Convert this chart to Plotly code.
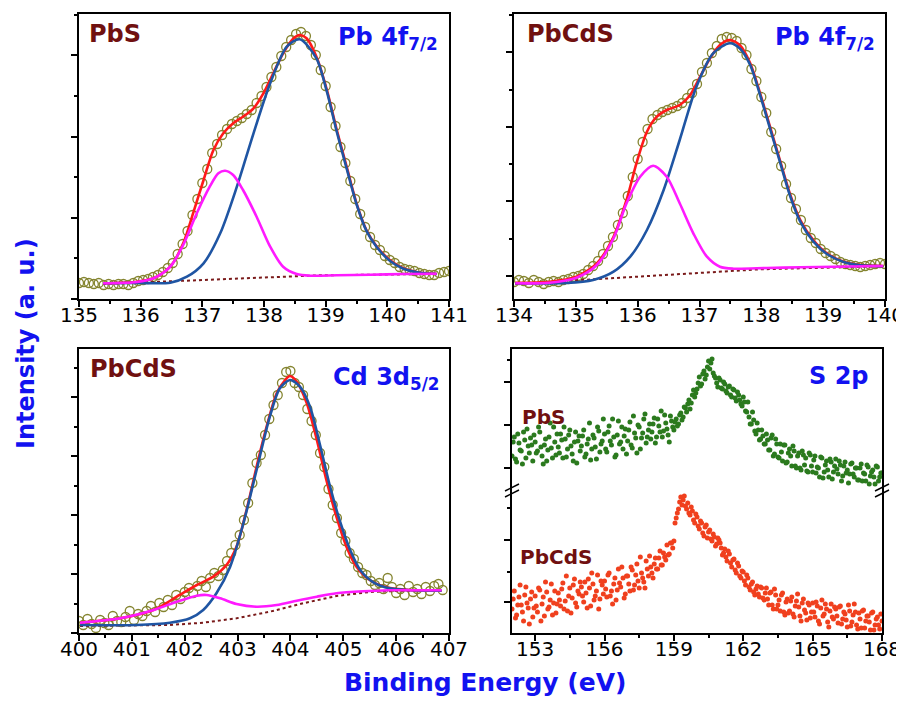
import plotly.graph_objects as go

# the page body adds an 8 px margin, so the figure is 8 px smaller and positions are offset by 8 px
OFF = 8
W, H = 904 - OFF, 705 - OFF


def fx(p):
    return (p - OFF) / W


def fy(p):
    return 1 - (p - OFF) / H


# ---------------- Panel A : PbS, Pb 4f7/2 ----------------
a_energy = [135.00, 135.08, 135.16, 135.24, 135.32, 135.40, 135.48, 135.56, 135.64, 135.72, 135.80, 135.88, 135.96,
            136.04, 136.12, 136.20, 136.28, 136.36, 136.44, 136.52, 136.60, 136.68, 136.76, 136.84, 136.92,
            137.00, 137.08, 137.16, 137.24, 137.32, 137.40, 137.48, 137.56, 137.64, 137.72, 137.80, 137.88, 137.96,
            138.04, 138.12, 138.20, 138.28, 138.36, 138.44, 138.52, 138.60, 138.68, 138.76, 138.84, 138.92,
            139.00, 139.08, 139.16, 139.24, 139.32, 139.40, 139.48, 139.56, 139.64, 139.72, 139.80, 139.88, 139.96,
            140.04, 140.12, 140.20, 140.28, 140.36, 140.44, 140.52, 140.60, 140.68, 140.76, 140.84, 140.92,
            141.00]
a_counts = [16, 17, 16, 15, 16, 14, 15, 14, 15, 15, 14, 16, 18,
            19, 20, 22, 24, 27, 31, 36, 45, 55, 68, 84, 100,
            116, 130, 146, 155, 164, 170, 175, 178, 181, 185, 189, 196, 203,
            212, 222, 232, 243, 252, 259, 265, 267, 263, 254, 244, 229,
            213, 192, 173, 152, 136, 118, 100, 85, 72, 62, 54, 49, 43,
            39, 36, 32, 30, 29, 28, 26, 25, 24, 24, 26, 27,
            28]
a_fit_x = [135.39, 135.94, 136.21, 136.48, 136.69, 136.85, 137.02, 137.18, 137.34, 137.50, 137.66, 137.83, 137.99,
           138.15, 138.31, 138.48, 138.58, 138.69, 138.85, 139.02, 139.18, 139.34, 139.50, 139.66, 139.83, 140.04,
           140.26, 140.53, 140.80]
a_fit_y = [15.7, 17.3, 20.7, 32.3, 55.7, 85.7, 119, 149, 165.7, 175.7, 182.3, 190.7, 205.7,
           225.7, 245.7, 260.7, 264, 260.7, 242.3, 209, 169, 132.3, 95.7, 69, 52.3, 39,
           30.7, 26.3, 25]
a_main_x = [135.39, 135.94, 136.48, 136.75, 137.02, 137.29, 137.56, 137.83, 138.10, 138.37, 138.58, 138.85, 139.02,
            139.18, 139.34, 139.50, 139.66, 139.83, 140.04, 140.26, 140.53, 140.80]
a_main_y = [15.7, 16.0, 16.3, 22.3, 35.7, 65.7, 112.3, 165.7, 215.7, 252.3, 259.7, 240.7, 207.3,
            167.3, 130.7, 95, 68.3, 51.7, 38.3, 30.3, 26.3, 25]
a_sec_x = [135.39, 135.94, 136.21, 136.48, 136.69, 136.91, 137.12, 137.26, 137.37, 137.50, 137.66, 137.88, 138.10,
           138.31, 138.53, 138.75, 139.18, 139.72, 140.26, 140.80]
a_sec_y = [15.7, 17, 20.7, 32.3, 54, 85.7, 112.3, 125.7, 128.3, 124, 109, 82.3, 52.3,
           32.3, 25, 23.3, 23.7, 24.3, 25, 25.3]
a_bg_x = [135.39, 138.90, 140.80]
a_bg_y = [15.0, 23.7, 25.0]

# ---------------- Panel B : PbCdS, Pb 4f7/2 ----------------
b_energy = [134.00, 134.08, 134.16, 134.24, 134.32, 134.40, 134.48, 134.56, 134.64, 134.72, 134.80, 134.88, 134.96,
            135.04, 135.12, 135.20, 135.28, 135.36, 135.44, 135.52, 135.60, 135.68, 135.76, 135.84, 135.92,
            136.00, 136.08, 136.16, 136.24, 136.32, 136.40, 136.48, 136.56, 136.64, 136.72, 136.80, 136.88, 136.96,
            137.04, 137.12, 137.20, 137.28, 137.36, 137.44, 137.52, 137.60, 137.68, 137.76, 137.84, 137.92,
            138.00, 138.08, 138.16, 138.24, 138.32, 138.40, 138.48, 138.56, 138.64, 138.72, 138.80, 138.88, 138.96,
            139.04, 139.12, 139.20, 139.28, 139.36, 139.44, 139.52, 139.60, 139.68, 139.76, 139.84, 139.92,
            140.00]
b_counts = [17, 19, 18, 16, 19, 17, 15, 17, 18, 17, 19, 20, 22,
            23, 25, 29, 33, 38, 45, 53, 62, 74, 86, 103, 122,
            140, 157, 170, 180, 184, 187, 189, 191, 193, 196, 201, 206, 215,
            227, 236, 246, 253, 260, 262, 261, 258, 251, 244, 230, 218,
            202, 186, 167, 150, 133, 115, 101, 90, 79, 69, 61, 56, 50,
            46, 43, 40, 37, 35, 34, 33, 32, 33, 34, 35, 36,
            35]
b_fit_x = [134.02, 134.58, 135.01, 135.34, 135.61, 135.82, 135.98, 136.15, 136.31, 136.47, 136.68, 136.85, 137.01,
           137.17, 137.33, 137.49, 137.65, 137.82, 137.98, 138.14, 138.30, 138.46, 138.63, 138.84, 139.06, 139.33,
           139.60, 139.97]
b_fit_y = [16.3, 17.3, 22.3, 35.7, 62.3, 99, 135.7, 167.3, 182.3, 189, 194, 204, 222.3,
           240.7, 254, 259, 254, 235.7, 205.7, 172.3, 139, 105.7, 79, 59, 45.7, 37.3,
           34, 33]
b_main_x = [134.02, 134.85, 135.28, 135.61, 135.88, 136.15, 136.42, 136.68, 136.95, 137.22, 137.49, 137.65, 137.82,
            137.98, 138.14, 138.30, 138.46, 138.63, 138.84, 139.06, 139.33, 139.60, 139.97]
b_main_y = [15.7, 16, 19, 27.3, 42.3, 69, 109, 159, 212.3, 245.7, 255.7, 250.7, 234,
            204, 170.7, 137.3, 104, 77.3, 57.7, 45, 37, 33.7, 32.7]
b_sec_x = [134.02, 134.58, 135.01, 135.34, 135.61, 135.82, 136.04, 136.25, 136.47, 136.68, 136.90, 137.12, 137.33,
           137.55, 138.09, 138.63, 139.16, 139.97]
b_sec_y = [15.7, 16.3, 21.3, 34, 60.7, 95.7, 122.3, 133.3, 122.3, 95.7, 65.7, 42.3, 32.3,
           30.3, 31, 31.7, 32.3, 33]
b_bg_x = [134.02, 137.98, 139.97]
b_bg_y = [15.0, 29.7, 32.7]

# ---------------- Panel C : PbCdS, Cd 3d5/2 ----------------
c_energy = [400.00, 400.08, 400.16, 400.24, 400.32, 400.40, 400.48, 400.56, 400.64, 400.72, 400.80, 400.88, 400.96,
            401.04, 401.12, 401.20, 401.28, 401.36, 401.44, 401.52, 401.60, 401.68, 401.76, 401.84, 401.92,
            402.00, 402.08, 402.16, 402.24, 402.32, 402.40, 402.48, 402.56, 402.64, 402.72, 402.80, 402.88, 402.96,
            403.04, 403.12, 403.20, 403.28, 403.36, 403.44, 403.52, 403.60, 403.68, 403.76, 403.84, 403.92,
            404.00, 404.08, 404.16, 404.24, 404.32, 404.40, 404.48, 404.56, 404.64, 404.72, 404.80, 404.88, 404.96,
            405.04, 405.12, 405.20, 405.28, 405.36, 405.44, 405.52, 405.60, 405.68, 405.76, 405.84, 405.92,
            406.00, 406.08, 406.16, 406.24, 406.32, 406.40, 406.48, 406.56, 406.64, 406.72, 406.80, 406.88]
c_counts = [12, 8, 14, 9, 5, 13, 10, 8, 17, 12, 11, 16, 22,
            13, 19, 17, 22, 27, 21, 30, 26, 33, 28, 38, 34,
            41, 45, 40, 47, 52, 46, 55, 60, 57, 63, 72, 80, 88,
            98, 113, 130, 150, 170, 178, 198, 214, 228, 238, 250, 261,
            262, 250, 246, 238, 224, 212, 198, 180, 166, 144, 128, 115, 100,
            92, 80, 74, 66, 60, 58, 52, 48, 50, 44, 55, 46,
            40, 44, 38, 47, 41, 44, 39, 46, 42, 47, 49, 43]
c_fit_x = [400.02, 400.78, 401.41, 401.85, 402.23, 402.54, 402.79, 402.98, 403.17, 403.36, 403.55, 403.74, 403.90,
           403.99, 404.12, 404.31, 404.50, 404.68, 404.87, 405.06, 405.25, 405.50, 405.82, 406.26, 406.86]
c_fit_y = [10.3, 14.7, 23, 36.3, 48, 56.3, 68, 86.3, 123, 166.3, 206.3, 239.7, 253,
           257, 251.3, 229.7, 193, 153, 116.3, 86.3, 66.3, 53, 45.7, 43, 42.3]
c_main_x = [400.02, 401.09, 401.72, 402.10, 402.35, 402.60, 402.86, 403.11, 403.36, 403.61, 403.80, 403.99, 404.18,
            404.37, 404.56, 404.75, 404.94, 405.13, 405.32, 405.57, 405.88, 406.33, 406.86]
c_main_y = [8, 8, 10.3, 14.7, 23, 39.7, 66.3, 109.7, 163, 216.3, 244.7, 253, 246.3,
            226.3, 188, 146.3, 111.3, 83, 63, 50.7, 44.7, 42.7, 42.3]
c_sec_x = [400.02, 400.78, 401.41, 401.85, 402.23, 402.41, 402.67, 402.98, 403.36, 403.74, 404.12, 404.50, 404.87,
           405.38, 405.88, 406.86]
c_sec_y = [10.3, 14.7, 23, 31.3, 37.3, 38, 34.7, 29, 26.3, 28, 32.3, 36.3, 39.7,
           41.7, 42.7, 42.7]
c_bg_x = [400.02, 401.72, 402.35, 402.98, 403.61, 404.24, 404.87, 405.50, 406.13, 406.86]
c_bg_y = [7, 8, 10.3, 14.7, 21.3, 29.7, 37, 41, 42.3, 42.3]

# ---------------- Panel D : S 2p ----------------
d_energy = [152.0, 152.1, 152.2, 152.3, 152.4, 152.5, 152.6, 152.7, 152.8, 152.9,
            153.0, 153.1, 153.2, 153.3, 153.4, 153.5, 153.6, 153.7, 153.8, 153.9,
            154.0, 154.1, 154.2, 154.3, 154.4, 154.5, 154.6, 154.7, 154.8, 154.9,
            155.0, 155.1, 155.2, 155.3, 155.4, 155.5, 155.6, 155.7, 155.8, 155.9,
            156.0, 156.1, 156.2, 156.3, 156.4, 156.5, 156.6, 156.7, 156.8, 156.9,
            157.0, 157.1, 157.2, 157.3, 157.4, 157.5, 157.6, 157.7, 157.8, 157.9,
            158.0, 158.1, 158.2, 158.3, 158.4, 158.5, 158.6, 158.7, 158.8, 158.9,
            159.0, 159.1, 159.2, 159.3, 159.4, 159.5, 159.6, 159.7, 159.8, 159.9,
            160.0, 160.1, 160.2, 160.3, 160.4, 160.5, 160.6, 160.7, 160.8, 160.9,
            161.0, 161.1, 161.2, 161.3, 161.4, 161.5, 161.6, 161.7, 161.8, 161.9,
            162.0, 162.1, 162.2, 162.3, 162.4, 162.5, 162.6, 162.7, 162.8, 162.9,
            163.0, 163.1, 163.2, 163.3, 163.4, 163.5, 163.6, 163.7, 163.8, 163.9,
            164.0, 164.1, 164.2, 164.3, 164.4, 164.5, 164.6, 164.7, 164.8, 164.9,
            165.0, 165.1, 165.2, 165.3, 165.4, 165.5, 165.6, 165.7, 165.8, 165.9,
            166.0, 166.1, 166.2, 166.3, 166.4, 166.5, 166.6, 166.7, 166.8, 166.9,
            167.0, 167.1, 167.2, 167.3, 167.4, 167.5, 167.6, 167.7, 167.8, 167.9,
            168.0]
d_pbs = [177, 196, 171, 190, 182, 201, 175, 187, 195, 172,
         191, 182, 201, 177, 188, 172, 196, 185, 206, 178,
         186, 199, 175, 194, 184, 203, 179, 191, 170, 197,
         187, 203, 179, 194, 173, 198, 186, 206, 181, 192,
         199, 181, 207, 188, 196, 178, 212, 191, 184, 204,
         192, 211, 185, 200, 180, 206, 195, 214, 190, 203,
         194, 209, 190, 214, 201, 196, 218, 204, 191, 212,
         203, 214, 209, 220, 216, 225, 229, 224, 238, 236,
         244, 256, 249, 262, 258, 272, 270, 260, 255, 246,
         253, 244, 249, 240, 247, 236, 243, 232, 238, 229,
         236, 222, 231, 209, 221, 202, 210, 193, 203, 189,
         199, 183, 195, 177, 194, 176, 189, 172, 188, 171,
         184, 167, 182, 165, 180, 163, 178, 175, 161, 178,
         161, 177, 166, 156, 175, 161, 172, 156, 171, 161,
         174, 159, 168, 157, 171, 163, 159, 170, 156, 165,
         153, 169, 160, 152, 166, 157, 163, 149, 166, 156,
         160]
d_pbcds = [24, 42, 18, 36, 28, 12, 46, 25, 34, 16,
           37, 21, 43, 29, 17, 41, 26, 49, 30, 20,
           40, 27, 50, 32, 22, 45, 35, 54, 26, 39,
           46, 31, 40, 54, 27, 49, 37, 58, 34, 48,
           52, 36, 60, 42, 49, 33, 64, 46, 55, 39,
           57, 42, 63, 48, 69, 45, 60, 51, 72, 57,
           66, 55, 75, 64, 82, 68, 76, 88, 79, 90,
           92, 115, 124, 136, 133, 127, 130, 118, 122, 110,
           116, 104, 110, 97, 108, 101, 94, 99, 87, 95,
           90, 78, 84, 72, 79, 66, 74, 60, 67, 55,
           61, 48, 55, 43, 51, 38, 47, 36, 45, 33,
           45, 28, 41, 24, 38, 28, 22, 40, 18, 34,
           22, 36, 16, 32, 26, 12, 34, 20, 30, 15,
           30, 16, 27, 9, 33, 19, 24, 6, 29, 14,
           24, 10, 27, 14, 19, 6, 22, 11, 29, 8,
           20, 5, 23, 12, 17, 3, 21, 8, 16, 4,
           12]
# second (interleaved) set of S 2p points
d_energy_b = [152.05, 152.15, 152.25, 152.35, 152.45, 152.55, 152.65, 152.75, 152.85, 152.95,
              153.05, 153.15, 153.25, 153.35, 153.45, 153.55, 153.65, 153.75, 153.85, 153.95,
              154.05, 154.15, 154.25, 154.35, 154.45, 154.55, 154.65, 154.75, 154.85, 154.95,
              155.05, 155.15, 155.25, 155.35, 155.45, 155.55, 155.65, 155.75, 155.85, 155.95,
              156.05, 156.15, 156.25, 156.35, 156.45, 156.55, 156.65, 156.75, 156.85, 156.95,
              157.05, 157.15, 157.25, 157.35, 157.45, 157.55, 157.65, 157.75, 157.85, 157.95,
              158.05, 158.15, 158.25, 158.35, 158.45, 158.55, 158.65, 158.75, 158.85, 158.95,
              159.05, 159.15, 159.25, 159.35, 159.45, 159.55, 159.65, 159.75, 159.85, 159.95,
              160.05, 160.15, 160.25, 160.35, 160.45, 160.55, 160.65, 160.75, 160.85, 160.95,
              161.05, 161.15, 161.25, 161.35, 161.45, 161.55, 161.65, 161.75, 161.85, 161.95,
              162.05, 162.15, 162.25, 162.35, 162.45, 162.55, 162.65, 162.75, 162.85, 162.95,
              163.05, 163.15, 163.25, 163.35, 163.45, 163.55, 163.65, 163.75, 163.85, 163.95,
              164.05, 164.15, 164.25, 164.35, 164.45, 164.55, 164.65, 164.75, 164.85, 164.95,
              165.05, 165.15, 165.25, 165.35, 165.45, 165.55, 165.65, 165.75, 165.85, 165.95,
              166.05, 166.15, 166.25, 166.35, 166.45, 166.55, 166.65, 166.75, 166.85, 166.95,
              167.05, 167.15, 167.25, 167.35, 167.45, 167.55, 167.65, 167.75, 167.85, 167.95]
d_pbs_b = [191, 174, 199, 183, 169, 193, 204, 180, 188, 198,
           180, 206, 186, 169, 194, 183, 210, 175, 191, 199,
           180, 193, 206, 176, 198, 187, 172, 201, 192, 182,
           197, 176, 189, 210, 184, 195, 174, 202, 189, 214,
           184, 201, 192, 214, 176, 198, 189, 206, 197, 179,
           203, 188, 217, 195, 208, 184, 200, 219, 196, 209,
           201, 215, 196, 207, 222, 202, 210, 198, 217, 206,
           211, 207, 218, 213, 226, 221, 233, 230, 243, 240,
           250, 247, 259, 254, 266, 264, 274, 257, 250, 255,
           245, 251, 242, 246, 238, 244, 235, 241, 233, 227,
           231, 221, 216, 209, 213, 199, 203, 194, 197, 189,
           193, 183, 198, 179, 189, 175, 181, 188, 170, 180,
           177, 187, 167, 177, 165, 182, 168, 162, 180, 167,
           173, 160, 165, 176, 155, 168, 163, 174, 154, 167,
           164, 172, 152, 167, 160, 150, 169, 159, 165, 153,
           165, 152, 159, 168, 149, 161, 156, 167, 152, 160]
d_pbcds_b = [34, 15, 28, 48, 21, 38, 30, 9, 41, 25,
             27, 45, 12, 36, 51, 24, 33, 18, 42, 29,
             33, 44, 24, 57, 37, 20, 48, 30, 42, 51,
             37, 51, 25, 45, 60, 33, 42, 24, 52, 39,
             44, 58, 37, 29, 55, 43, 50, 66, 35, 57,
             49, 66, 43, 58, 52, 76, 55, 45, 64, 77,
             60, 69, 64, 75, 68, 80, 73, 78, 90, 85,
             110, 120, 131, 128, 137, 124, 120, 126, 113, 119,
             107, 112, 100, 106, 95, 103, 92, 96, 89, 93,
             85, 80, 76, 82, 70, 73, 63, 70, 57, 62,
             52, 58, 46, 49, 41, 44, 39, 46, 35, 40,
             34, 40, 28, 44, 24, 33, 38, 21, 31, 20,
             32, 19, 27, 39, 17, 30, 23, 13, 28, 21,
             21, 31, 12, 25, 17, 29, 11, 22, 16, 26,
             17, 26, 9, 21, 13, 28, 7, 18, 21, 4,
             14, 22, 5, 17, 11, 20, 3, 14, 8, 19]

# ---------------- styling ----------------
C_DATA = "#84842f"
C_FIT = "#ff1a1a"
C_MAIN = "#1f55a3"
C_SEC = "#ff1aff"
C_BG = "#7a1a1a"
C_LABEL = "#701010"
C_TITLE = "#1212f0"
FONT = "DejaVu Sans"

fig = go.Figure()


def add_fit_panel(xa, ya, ex, cnt, bgx, bgy, fitx, fity, mx, my, sx, sy):
    fig.add_trace(go.Scatter(x=ex, y=cnt, mode="markers", xaxis=xa, yaxis=ya,
                             marker=dict(symbol="circle-open", size=9, color=C_DATA, line=dict(width=1.3, color=C_DATA))))
    fig.add_trace(go.Scatter(x=bgx, y=bgy, mode="lines", xaxis=xa, yaxis=ya,
                             line=dict(color=C_BG, width=2, dash="dot")))
    fig.add_trace(go.Scatter(x=fitx, y=fity, mode="lines", xaxis=xa, yaxis=ya,
                             line=dict(color=C_FIT, width=2.6, shape="spline", smoothing=0.8)))
    fig.add_trace(go.Scatter(x=mx, y=my, mode="lines", xaxis=xa, yaxis=ya,
                             line=dict(color=C_MAIN, width=2.6, shape="spline", smoothing=0.8)))
    fig.add_trace(go.Scatter(x=sx, y=sy, mode="lines", xaxis=xa, yaxis=ya,
                             line=dict(color=C_SEC, width=2.6, shape="spline", smoothing=0.8)))


add_fit_panel("x", "y", a_energy, a_counts, a_bg_x, a_bg_y, a_fit_x, a_fit_y, a_main_x, a_main_y, a_sec_x, a_sec_y)
add_fit_panel("x2", "y2", b_energy, b_counts, b_bg_x, b_bg_y, b_fit_x, b_fit_y, b_main_x, b_main_y, b_sec_x, b_sec_y)
add_fit_panel("x3", "y3", c_energy, c_counts, c_bg_x, c_bg_y, c_fit_x, c_fit_y, c_main_x, c_main_y, c_sec_x, c_sec_y)

for ex, ey, col in ((d_energy, d_pbs, "#2b7a1e"), (d_energy_b, d_pbs_b, "#2b7a1e"),
                    (d_energy, d_pbcds, "#f0401e"), (d_energy_b, d_pbcds_b, "#f0401e")):
    fig.add_trace(go.Scatter(x=ex, y=ey, mode="markers", xaxis="x4", yaxis="y4",
                             marker=dict(symbol="circle", size=5, color=col)))

tickfont = dict(family=FONT, size=20, color="black")
common = dict(showline=True, mirror=True, linecolor="black", linewidth=1.5, ticks="outside",
              ticklen=6, tickwidth=1.5, tickcolor="black", showgrid=False, zeroline=False,
              automargin=False)


def xax(dom, rng, tick0, dtick, mdtick, anchor):
    return dict(domain=dom, range=rng, tickmode="linear", tick0=tick0, dtick=dtick, tickfont=tickfont,
                ticklabelstandoff=-9, ticklabeloverflow="allow",
                minor=dict(ticks="outside", ticklen=3, tickwidth=1.5, tickcolor="black", dtick=mdtick, tick0=tick0),
                anchor=anchor, **common)


def yax(dom, rng, tick0, dtick, mdtick, anchor):
    return dict(domain=dom, range=rng, tickmode="linear", tick0=tick0, dtick=dtick, showticklabels=False,
                minor=dict(ticks="outside", ticklen=3, tickwidth=1.5, tickcolor="black", dtick=mdtick, tick0=tick0),
                anchor=anchor, **common)


top_dom = [fy(299), fy(14)]
bot_dom = [fy(633), fy(349)]
fig.update_layout(
    xaxis=xax([fx(79), fx(449)], [135, 141], 135, 1, 0.5, "y"),
    yaxis=yax(top_dom, [0, 285], 0, 81.2, 40.6, "x"),
    xaxis2=xax([fx(514), fx(885)], [134, 140], 134, 1, 0.5, "y2"),
    yaxis2=yax(top_dom, [0, 285], 23, 74.6, 37.3, "x2"),
    xaxis3=xax([fx(79), fx(449)], [400, 407], 400, 1, 0.5, "y3"),
    yaxis3=yax(bot_dom, [0, 284], 0, 59, 29.5, "x3"),
    xaxis4=xax([fx(512), fx(882)], [152, 168], 153, 3, 1.5, "y4"),
    yaxis4=dict(domain=bot_dom, range=[0, 284], tickmode="array", tickvals=[30.7, 93, 164.7, 208, 251.3],
                showticklabels=False, anchor="x4",
                minor=dict(ticks="outside", ticklen=3, tickwidth=1.5, tickcolor="black",
                           tickmode="array", tickvals=[61.3, 124.7, 273]),
                **common),
)


def label(text, x, y, xanchor, color, size):
    fig.add_annotation(text=text, x=fx(x), y=fy(y), xref="paper", yref="paper", xanchor=xanchor,
                       yanchor="middle", showarrow=False,
                       font=dict(family=FONT, size=size, color=color, weight="bold"))


label("PbS", 87, 34, "left", C_LABEL, 24)
label("Pb 4f<sub>7/2</sub>", 440, 38, "right", C_TITLE, 24)
label("PbCdS", 525, 34, "left", C_LABEL, 24)
label("Pb 4f<sub>7/2</sub>", 877, 38, "right", C_TITLE, 24)
label("PbCdS", 88, 369, "left", C_LABEL, 24)
label("Cd 3d<sub>5/2</sub>", 442, 379, "right", C_TITLE, 24)
label("S 2p", 871, 376, "right", C_TITLE, 24)
label("PbS", 520, 417, "left", C_LABEL, 20)
label("PbCdS", 518, 557, "left", C_LABEL, 20)

fig.add_annotation(text="Intensity (a. u.)", x=fx(26), y=fy(344), xref="paper", yref="paper",
                   textangle=-90, showarrow=False, xanchor="center", yanchor="middle",
                   font=dict(family=FONT, size=24, color=C_TITLE, weight="bold"))
fig.add_annotation(text="Binding Energy (eV)", x=fx(485), y=fy(682), xref="paper", yref="paper",
                   showarrow=False, xanchor="center", yanchor="middle",
                   font=dict(family=FONT, size=25, color=C_TITLE, weight="bold"))

# axis break marks on S 2p panel
for ax_x in (512, 882):
    for dy in (0, 6):
        fig.add_shape(type="line", xref="paper", yref="paper",
                      x0=fx(ax_x - 7), y0=fy(497 - dy), x1=fx(ax_x + 7), y1=fy(490 - dy),
                      line=dict(color="black", width=1.5))

fig.update_layout(width=W, height=H, margin=dict(l=0, r=0, t=0, b=0, pad=0, autoexpand=False),
                  showlegend=False, plot_bgcolor="white", paper_bgcolor="white")

fig.write_html("out.html")
